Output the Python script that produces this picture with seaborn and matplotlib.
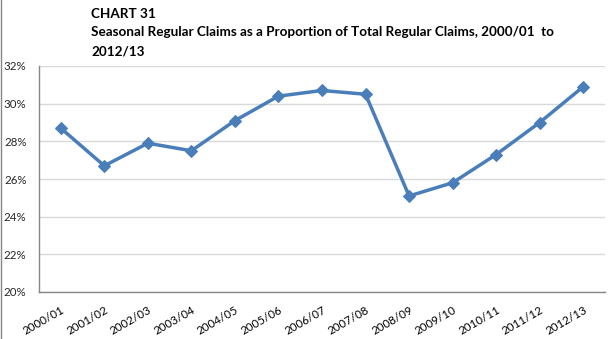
import matplotlib
matplotlib.use("Agg")
import matplotlib.pyplot as plt
import seaborn as sns
import pandas as pd
from matplotlib.ticker import FuncFormatter, FixedLocator
from matplotlib.lines import Line2D

years = ["2000/01", "2001/02", "2002/03", "2003/04", "2004/05", "2005/06", "2006/07",
         "2007/08", "2008/09", "2009/10", "2010/11", "2011/12", "2012/13"]
share_pct = [28.7, 26.7, 27.9, 27.5, 29.1, 30.4, 30.7, 30.5, 25.1, 25.8, 27.3, 29.0, 30.9]
y_ticks = [20, 22, 24, 26, 28, 30, 32]
title_lines = ["CHART 31",
               "Seasonal Regular Claims as a Proportion of Total Regular Claims, 2000/01  to",
               "2012/13"]

sns.set_style("white")
plt.rcParams["font.family"] = ["Lato", "DejaVu Sans"]

df = pd.DataFrame({"year": years, "share": share_pct})
df["pos"] = range(len(years))

fig = plt.figure(figsize=(6.09, 3.39), dpi=100)
W, H = 609, 339
ax = fig.add_axes([39 / W, 1 - 292 / H, 566 / W, 226 / H])

blue = "#4A7EBB"
sns.lineplot(data=df, x="pos", y="share", ax=ax, color=blue, linewidth=2.5,
             marker="D", markersize=6.5, markeredgecolor=blue, markerfacecolor=blue,
             sort=False, zorder=3)

ax.set_xlim(-0.5, len(years) - 0.5)
ax.set_ylim(y_ticks[0], y_ticks[-1])
ax.set_yticks(y_ticks)
ax.yaxis.set_major_formatter(FuncFormatter(lambda v, p: f"{v:.0f}%"))
ax.grid(axis="y", color="#D9D9D9", linewidth=1.0)
ax.set_axisbelow(True)

ax.set_xticks(range(len(years)))
ax.set_xticklabels(years, rotation=30, ha="right", va="top", rotation_mode="anchor")
ax.tick_params(axis="x", which="major", length=0, pad=9, labelsize=8.3, colors="#000000")
ax.xaxis.set_minor_locator(FixedLocator([i - 0.5 for i in range(len(years) + 1)]))
ax.tick_params(axis="x", which="minor", length=4, width=1, color="#868686", direction="out")
ax.tick_params(axis="y", which="major", length=4, width=1, color="#868686",
               direction="out", pad=5, labelsize=8.3)
ax.set_xlabel("")
ax.set_ylabel("")

for s in ["top", "right"]:
    ax.spines[s].set_visible(False)
for s in ["left", "bottom"]:
    ax.spines[s].set_color("#868686")
    ax.spines[s].set_linewidth(1.0)

# title lines
ys = [14, 32.5, 51]
for t, yy in zip(title_lines, ys):
    fig.text(91 / W, 1 - yy / H, t, fontsize=9.7, fontweight="bold",
             ha="left", va="center", color="#000000")

# left border
fig.add_artist(Line2D([0.5 / W, 0.5 / W], [0, 1], transform=fig.transFigure,
                      color="#868686", linewidth=1.0))

fig.savefig("out.png", dpi=100)
